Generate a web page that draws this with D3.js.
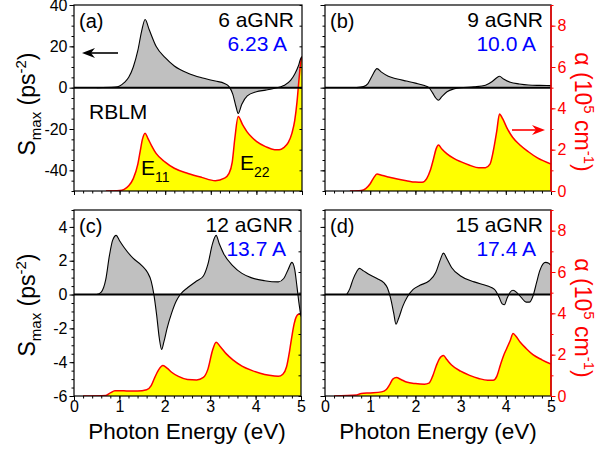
<!DOCTYPE html>
<html><head><meta charset="utf-8">
<script src="https://cdn.jsdelivr.net/npm/d3@7"></script>
<style>
html,body{margin:0;padding:0;background:#fff;}
svg{display:block;font-family:Arial,"Liberation Sans",sans-serif;}
</style></head><body>
<svg id="chart" width="605" height="453"></svg>
<script>
// ---------- DATA ----------
const xTicks = [0, 1, 2, 3, 4, 5];
const sTicksTop = [40, 20, 0, -20, -40];
const sTicksBottom = [4, 2, 0, -2, -4, -6];
const alphaTicks = [0, 2, 4, 6, 8];

// panel (a) 6 aGNR
const aS_E = [0.5,0.9,1.0,1.1,1.2,1.3,1.4,1.48,1.56,1.65,1.8,2.0,2.2,2.5,2.8,3.1,3.3,3.4,3.48,3.55,3.6,3.68,3.8,4.0,4.2,4.4,4.6,4.75,4.85,4.92,4.97,5.0];
const aS_V = [0,0.3,0.8,2.4,5,10,18,27,33,28,20,14.5,10.5,7,4.8,3.2,2,0.5,-3,-9,-12.5,-8,-4,-2,-1.2,-0.3,1,3.5,7,10.5,14,15];
const aA_E = [0.7,1.0,1.1,1.2,1.3,1.4,1.45,1.5,1.56,1.62,1.7,1.8,2.0,2.2,2.5,2.8,3.1,3.3,3.4,3.47,3.53,3.6,3.7,3.8,3.9,4.0,4.2,4.4,4.5,4.6,4.7,4.78,4.84,4.89,4.93,4.97,5.0];
const aA_V = [0,0.02,0.08,0.25,0.6,1.3,1.9,2.5,2.8,2.55,2.2,1.82,1.4,1.1,0.85,0.66,0.5,0.62,0.85,1.4,2.6,3.6,3.2,2.85,2.6,2.4,2.15,2.0,2.0,2.1,2.35,2.8,3.4,4.3,5.3,6.2,6.5];

// panel (b) 9 aGNR
const bS_E = [0.7,0.85,0.95,1.05,1.15,1.25,1.4,1.6,1.8,2.0,2.2,2.3,2.38,2.45,2.51,2.58,2.7,2.85,3.0,3.3,3.55,3.7,3.8,3.86,3.95,4.1,4.3,4.5,4.75,5.0];
const bS_V = [0,0.5,2,6,9.2,7.5,5.5,4.2,3.2,2.2,1,0,-2.5,-5,-6.1,-4.5,-2,-0.6,0,0.4,1.2,3,4.8,5.5,4.2,2.6,1.8,1.3,1.1,1];
const bA_E = [0.55,0.8,0.9,1.0,1.08,1.15,1.25,1.4,1.6,1.8,2.0,2.15,2.25,2.33,2.4,2.46,2.51,2.58,2.7,2.85,3.0,3.2,3.4,3.55,3.65,3.72,3.8,3.86,3.93,4.03,4.15,4.3,4.5,4.7,5.0];
const bA_V = [0,0.03,0.12,0.35,0.65,0.82,0.76,0.68,0.58,0.5,0.43,0.42,0.6,1.0,1.55,2.05,2.23,2.05,1.8,1.58,1.42,1.25,1.12,1.13,1.3,1.9,2.9,3.73,3.5,3.03,2.6,2.25,1.9,1.6,1.31];

// panel (c) 12 aGNR
const cS_E = [0.5,0.6,0.7,0.78,0.85,0.93,1.0,1.1,1.3,1.5,1.62,1.7,1.76,1.82,1.88,1.93,1.98,2.05,2.15,2.25,2.34,2.5,2.7,2.85,2.95,3.05,3.13,3.2,3.3,3.5,3.7,3.9,4.2,4.5,4.62,4.72,4.8,4.86,4.91,4.95,5.0];
const cS_V = [0,0.15,0.9,2.3,3.2,3.5,3.2,2.8,2.15,1.7,1.3,0.8,0,-1.2,-2.6,-3.25,-2.8,-2.0,-1.1,-0.4,0,0.4,0.8,1.1,1.8,3.0,3.5,3.0,2.4,1.7,1.25,1.0,0.82,0.75,0.95,1.5,1.9,1.5,0.5,-0.4,-1.3];
const cA_E = [0.2,0.7,0.8,0.9,1.1,1.4,1.6,1.7,1.78,1.86,1.96,2.05,2.15,2.3,2.5,2.7,2.85,2.95,3.05,3.13,3.22,3.35,3.5,3.7,3.9,4.1,4.3,4.5,4.6,4.68,4.75,4.8,4.85,4.9,4.95,5.0];
const cA_V = [0,0.03,0.15,0.26,0.25,0.24,0.3,0.5,0.9,1.25,1.47,1.35,1.15,0.95,0.8,0.78,0.9,1.3,2.2,2.6,2.4,2.05,1.75,1.45,1.25,1.1,1.0,0.95,1.05,1.4,2.2,2.9,3.5,3.85,3.95,3.95];

// panel (d) 15 aGNR
const dS_E = [0.48,0.55,0.62,0.7,0.76,0.85,1.0,1.15,1.3,1.38,1.45,1.52,1.57,1.63,1.72,1.82,1.95,2.1,2.3,2.45,2.55,2.62,2.7,2.8,3.0,3.3,3.6,3.75,3.85,3.92,3.97,4.03,4.1,4.16,4.25,4.35,4.45,4.52,4.6,4.68,4.75,4.82,4.88,4.95,5.0];
const dS_V = [0,0.35,0.9,1.35,1.55,1.4,1.15,0.95,0.7,0.4,-0.2,-1.1,-1.75,-1.4,-0.7,-0.15,0.3,0.55,0.8,1.3,2.05,2.45,2.1,1.6,1.1,0.75,0.5,0.3,-0.15,-0.55,-0.6,-0.2,0.15,0.25,0.1,-0.2,-0.45,-0.45,-0.1,0.7,1.4,1.8,1.9,1.85,1.72];
const dA_E = [0.2,0.7,0.8,1.0,1.25,1.35,1.43,1.5,1.58,1.68,1.8,2.0,2.2,2.3,2.38,2.46,2.53,2.62,2.7,2.8,3.0,3.2,3.4,3.6,3.72,3.8,3.88,3.95,4.02,4.1,4.16,4.22,4.32,4.45,4.6,4.8,5.0];
const dA_V = [0,0.05,0.12,0.15,0.2,0.3,0.55,0.82,0.89,0.8,0.68,0.6,0.57,0.62,0.95,1.45,1.8,1.96,1.75,1.5,1.2,1.0,0.85,0.76,0.76,0.95,1.5,1.95,2.3,2.7,3.03,2.9,2.6,2.3,2.0,1.75,1.54];

const panelTags = ["(a)", "(b)", "(c)", "(d)"];
const ribbonNames = ["6 aGNR", "9 aGNR", "12 aGNR", "15 aGNR"];
const widths = ["6.23 A", "10.0 A", "13.7 A", "17.4 A"];

// ---------- LAYOUT ----------
const FONT = 'Arial, "Liberation Sans", sans-serif';
const panels = [
  {x0:74, x1:302, y0:5, y1:191, sDom:[-50,40], sTicks:sTicksTop, sMinor:5, leftLabels:true, rightLabels:false, bottomLabels:false,
   SE:aS_E, SV:aS_V, AE:aA_E, AV:aA_V},
  {x0:325, x1:551, y0:5, y1:191, sDom:[-50,40], sTicks:sTicksTop, sMinor:5, leftLabels:false, rightLabels:true, bottomLabels:false,
   SE:bS_E, SV:bS_V, AE:bA_E, AV:bA_V},
  {x0:74, x1:301, y0:210, y1:396, sDom:[-6,5], sTicks:sTicksBottom, sMinor:0.5, leftLabels:true, rightLabels:false, bottomLabels:true,
   SE:cS_E, SV:cS_V, AE:cA_E, AV:cA_V},
  {x0:325, x1:551, y0:210, y1:396, sDom:[-6,5], sTicks:sTicksBottom, sMinor:0.5, leftLabels:false, rightLabels:true, bottomLabels:true,
   SE:dS_E, SV:dS_V, AE:dA_E, AV:dA_V}
];

const svg = d3.select("#chart");
const defs = svg.append("defs");

function range(a, b, step) { const r = []; for (let v = a; v <= b + 1e-9; v += step) r.push(+v.toFixed(4)); return r; }

panels.forEach((p, i) => {
  const x = d3.scaleLinear().domain([0, 5]).range([p.x0, p.x1]);
  const yS = d3.scaleLinear().domain(p.sDom).range([p.y1, p.y0]);
  const yA = d3.scaleLinear().domain([0, 9]).range([p.y1, p.y0]);

  defs.append("clipPath").attr("id", "clip" + i).append("rect")
    .attr("x", p.x0).attr("y", p.y0).attr("width", p.x1 - p.x0).attr("height", p.y1 - p.y0);

  const g = svg.append("g");
  const plot = g.append("g").attr("clip-path", `url(#clip${i})`);

  const sData = p.SE.map((e, k) => [e, p.SV[k]]);
  const aData = p.AE.map((e, k) => [e, p.AV[k]]);
  const curve = d3.curveMonotoneX;

  plot.append("path").datum(sData)
    .attr("d", d3.area().x(d => x(d[0])).y0(yS(0)).y1(d => yS(d[1])).curve(curve))
    .attr("fill", "#c0c0c0");
  plot.append("path").datum(aData)
    .attr("d", d3.area().x(d => x(d[0])).y0(yA(0)).y1(d => yA(d[1])).curve(curve))
    .attr("fill", "#ffff00");
  plot.append("path").datum(aData)
    .attr("d", d3.line().x(d => x(d[0])).y(d => yA(d[1])).curve(curve))
    .attr("fill", "none").attr("stroke", "#ff0000").attr("stroke-width", 1.5);
  plot.append("path").datum(sData)
    .attr("d", d3.line().x(d => x(d[0])).y(d => yS(d[1])).curve(curve))
    .attr("fill", "none").attr("stroke", "#000").attr("stroke-width", 1.1);
  plot.append("line").attr("x1", p.x0).attr("x2", p.x1).attr("y1", yS(0)).attr("y2", yS(0))
    .attr("stroke", "#000").attr("stroke-width", 2);

  // frame
  g.append("rect").attr("x", p.x0).attr("y", p.y0).attr("width", p.x1 - p.x0).attr("height", p.y1 - p.y0)
    .attr("fill", "none").attr("stroke", "#000").attr("stroke-width", 1.2);

  // bottom axis
  const xMinor = d3.axisBottom(x).tickValues(range(0, 5, 0.2)).tickSize(2.5).tickFormat("");
  g.append("g").attr("transform", `translate(0,${p.y1})`).call(xMinor).call(s => s.select(".domain").remove());
  const xMajor = d3.axisBottom(x).tickValues(xTicks).tickSize(4).tickPadding(1)
    .tickFormat(p.bottomLabels ? d3.format("d") : "");
  const gx = g.append("g").attr("transform", `translate(0,${p.y1})`).call(xMajor);
  gx.select(".domain").remove();
  gx.selectAll("text").attr("font-size", 16).attr("font-family", FONT).attr("fill", "#000");

  // left axis
  const sMin = range(p.sDom[0], p.sDom[1], p.sMinor);
  g.append("g").attr("transform", `translate(${p.x0},0)`)
    .call(d3.axisLeft(yS).tickValues(sMin).tickSize(2.5).tickFormat(""))
    .call(s => s.select(".domain").remove());
  const gl = g.append("g").attr("transform", `translate(${p.x0},0)`)
    .call(d3.axisLeft(yS).tickValues(p.sTicks).tickSize(4.5).tickPadding(2)
      .tickFormat(p.leftLabels ? d3.format("d") : ""));
  gl.select(".domain").remove();
  gl.selectAll("text").attr("font-size", 16).attr("font-family", FONT).attr("fill", "#000")
    .text(d => p.leftLabels ? String(d) : "");

  // right axis
  if (p.rightLabels) {
    const red = "#ff0000";
    g.append("line").attr("x1", p.x1).attr("x2", p.x1).attr("y1", p.y0).attr("y2", p.y1)
      .attr("stroke", red).attr("stroke-width", 1.5);
    const ra = g.append("g").attr("transform", `translate(${p.x1},0)`)
      .call(d3.axisRight(yA).tickValues(range(0, 9, 1)).tickSize(2.5).tickFormat(""));
    ra.select(".domain").remove();
    ra.selectAll("line").attr("stroke", red);
    const rb = g.append("g").attr("transform", `translate(${p.x1},0)`)
      .call(d3.axisRight(yA).tickValues(alphaTicks).tickSize(4.5).tickPadding(2).tickFormat(d3.format("d")));
    rb.select(".domain").remove();
    rb.selectAll("line").attr("stroke", red);
    rb.selectAll("text").attr("font-size", 16).attr("font-family", FONT).attr("fill", red);
  } else {
    g.append("g").attr("transform", `translate(${p.x1},0)`)
      .call(d3.axisLeft(yA).tickValues(range(0, 9, 1)).tickSize(2.5).tickFormat(""))
      .call(s => s.select(".domain").remove());
  }

  // annotations
  g.append("text").attr("x", p.x0 + 5).attr("y", p.y0 + 23).attr("font-size", 20).attr("font-family", FONT)
    .text(panelTags[i]);
  g.append("text").attr("x", p.x1 - 8).attr("y", p.y0 + 22).attr("text-anchor", "end").attr("font-size", 21)
    .attr("font-family", FONT).text(ribbonNames[i]);
  g.append("text").attr("x", p.x1 - 15).attr("y", p.y0 + 46).attr("text-anchor", "end").attr("font-size", 21)
    .attr("font-family", FONT).attr("fill", "#0000ff").text(widths[i]);
});

// RBLM & E labels in (a)
svg.append("text").attr("x", 89).attr("y", 119).attr("font-size", 21).attr("font-family", FONT).text("RBLM");
const e11 = svg.append("text").attr("x", 141).attr("y", 175).attr("font-size", 21).attr("font-family", FONT);
e11.append("tspan").text("E");
e11.append("tspan").attr("font-size", 14).attr("dy", 7).text("11");
const e22 = svg.append("text").attr("x", 240).attr("y", 170).attr("font-size", 21).attr("font-family", FONT);
e22.append("tspan").text("E");
e22.append("tspan").attr("font-size", 14).attr("dy", 7).text("22");

// arrows
function arrow(x1, x2, y, color) {
  const dir = Math.sign(x2 - x1);
  svg.append("line").attr("x1", x1).attr("x2", x2 - dir * 6).attr("y1", y).attr("y2", y)
    .attr("stroke", color).attr("stroke-width", 1.6);
  svg.append("path")
    .attr("d", `M${x2},${y} L${x2 - dir * 13},${y - 5} L${x2 - dir * 9},${y} L${x2 - dir * 13},${y + 5} Z`)
    .attr("fill", color);
}
arrow(118, 82, 53, "#000");
arrow(512, 545, 130, "#ff0000");

// y labels (left)
function leftLabel(cy) {
  const t = svg.append("text").attr("transform", `translate(35,${cy}) rotate(-90)`)
    .attr("text-anchor", "middle").attr("font-size", 23).attr("font-family", FONT);
  t.append("tspan").text("S");
  t.append("tspan").attr("font-size", 15).attr("dy", 6).text("max");
  t.append("tspan").attr("dy", -6).text("\u00a0(ps");
  t.append("tspan").attr("font-size", 15).attr("dy", -9).text("-2");
  t.append("tspan").attr("dy", 9).text(")");
}
leftLabel(104);
leftLabel(305);

function rightLabel(cy) {
  const t = svg.append("text").attr("transform", `translate(575,${cy}) rotate(90)`)
    .attr("text-anchor", "middle").attr("font-size", 23).attr("font-family", FONT).attr("fill", "#ff0000");
  t.append("tspan").text("\u03b1 (10");
  t.append("tspan").attr("font-size", 15).attr("dy", -9).text("5");
  t.append("tspan").attr("dy", 9).text(" cm");
  t.append("tspan").attr("font-size", 15).attr("dy", -9).text("-1");
  t.append("tspan").attr("dy", 9).text(")");
}
rightLabel(112);
rightLabel(318);

// x labels
[187, 438].forEach(cx => {
  svg.append("text").attr("x", cx).attr("y", 439).attr("text-anchor", "middle")
    .attr("font-size", 22.5).attr("font-family", FONT).text("Photon Energy (eV)");
});
</script>
</body></html>
